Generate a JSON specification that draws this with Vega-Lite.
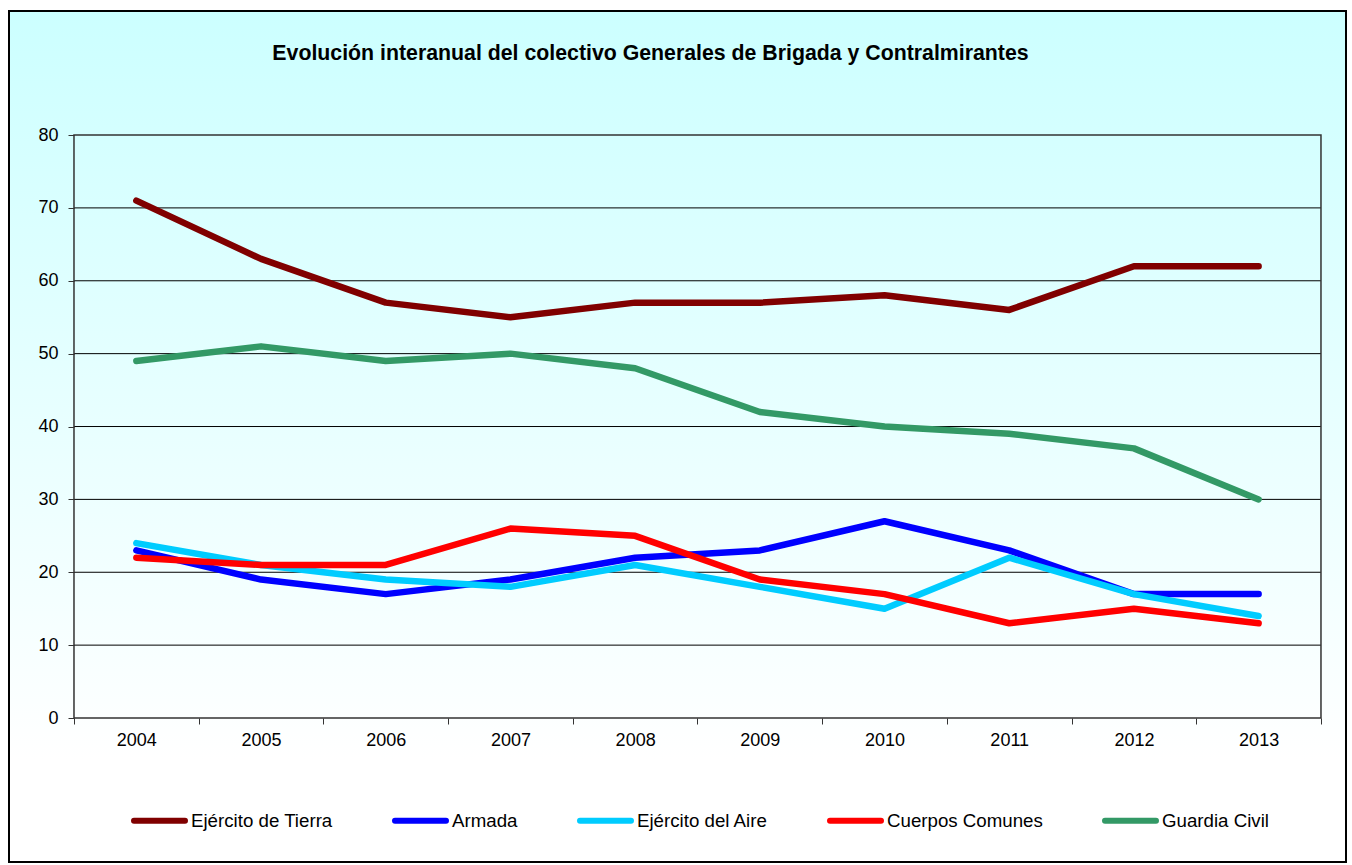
{
  "$schema": "https://vega.github.io/schema/vega-lite/v6.json",
  "width": 1337,
  "height": 851,
  "autosize": {"type": "none"},
  "padding": {"left": 9, "top": 11, "right": 6, "bottom": 3},
  "background": "white",
  "config": {
    "font": "Liberation Sans",
    "view": {
      "fill": {"gradient": "linear", "x1": 0, "y1": 0, "x2": 0, "y2": 1,
        "stops": [{"offset": 0, "color": "#CCFFFF"}, {"offset": 0.88, "color": "#FFFFFF"}, {"offset": 1, "color": "#FFFFFF"}]},
      "stroke": "black",
      "strokeWidth": 2
    }
  },
  "title": {
    "text": "Evolución interanual del colectivo Generales de Brigada y Contralmirantes",
    "fontSize": 21.3, "fontWeight": "bold", "font": "Liberation Sans", "color": "black",
    "anchor": "middle", "frame": "group", "offset": -70, "baseline": "alphabetic", "dx": -27
  },
  "datasets": {
    "grid": [{"g": 10}, {"g": 20}, {"g": 30}, {"g": 40}, {"g": 50}, {"g": 60}, {"g": 70}],
    "series": [
      {"year": "2004", "serie": "Ejército de Tierra", "value": 71},
      {"year": "2005", "serie": "Ejército de Tierra", "value": 63},
      {"year": "2006", "serie": "Ejército de Tierra", "value": 57},
      {"year": "2007", "serie": "Ejército de Tierra", "value": 55},
      {"year": "2008", "serie": "Ejército de Tierra", "value": 57},
      {"year": "2009", "serie": "Ejército de Tierra", "value": 57},
      {"year": "2010", "serie": "Ejército de Tierra", "value": 58},
      {"year": "2011", "serie": "Ejército de Tierra", "value": 56},
      {"year": "2012", "serie": "Ejército de Tierra", "value": 62},
      {"year": "2013", "serie": "Ejército de Tierra", "value": 62},
      {"year": "2004", "serie": "Armada", "value": 23},
      {"year": "2005", "serie": "Armada", "value": 19},
      {"year": "2006", "serie": "Armada", "value": 17},
      {"year": "2007", "serie": "Armada", "value": 19},
      {"year": "2008", "serie": "Armada", "value": 22},
      {"year": "2009", "serie": "Armada", "value": 23},
      {"year": "2010", "serie": "Armada", "value": 27},
      {"year": "2011", "serie": "Armada", "value": 23},
      {"year": "2012", "serie": "Armada", "value": 17},
      {"year": "2013", "serie": "Armada", "value": 17},
      {"year": "2004", "serie": "Ejército del Aire", "value": 24},
      {"year": "2005", "serie": "Ejército del Aire", "value": 21},
      {"year": "2006", "serie": "Ejército del Aire", "value": 19},
      {"year": "2007", "serie": "Ejército del Aire", "value": 18},
      {"year": "2008", "serie": "Ejército del Aire", "value": 21},
      {"year": "2009", "serie": "Ejército del Aire", "value": 18},
      {"year": "2010", "serie": "Ejército del Aire", "value": 15},
      {"year": "2011", "serie": "Ejército del Aire", "value": 22},
      {"year": "2012", "serie": "Ejército del Aire", "value": 17},
      {"year": "2013", "serie": "Ejército del Aire", "value": 14},
      {"year": "2004", "serie": "Cuerpos Comunes", "value": 22},
      {"year": "2005", "serie": "Cuerpos Comunes", "value": 21},
      {"year": "2006", "serie": "Cuerpos Comunes", "value": 21},
      {"year": "2007", "serie": "Cuerpos Comunes", "value": 26},
      {"year": "2008", "serie": "Cuerpos Comunes", "value": 25},
      {"year": "2009", "serie": "Cuerpos Comunes", "value": 19},
      {"year": "2010", "serie": "Cuerpos Comunes", "value": 17},
      {"year": "2011", "serie": "Cuerpos Comunes", "value": 13},
      {"year": "2012", "serie": "Cuerpos Comunes", "value": 15},
      {"year": "2013", "serie": "Cuerpos Comunes", "value": 13},
      {"year": "2004", "serie": "Guardia Civil", "value": 49},
      {"year": "2005", "serie": "Guardia Civil", "value": 51},
      {"year": "2006", "serie": "Guardia Civil", "value": 49},
      {"year": "2007", "serie": "Guardia Civil", "value": 50},
      {"year": "2008", "serie": "Guardia Civil", "value": 48},
      {"year": "2009", "serie": "Guardia Civil", "value": 42},
      {"year": "2010", "serie": "Guardia Civil", "value": 40},
      {"year": "2011", "serie": "Guardia Civil", "value": 39},
      {"year": "2012", "serie": "Guardia Civil", "value": 37},
      {"year": "2013", "serie": "Guardia Civil", "value": 30}
    ]
  },
  "layer": [
    {
      "data": {"name": "grid"},
      "mark": {"type": "rule", "color": "black", "strokeWidth": 1},
      "encoding": {
        "x": {"datum": "2004", "type": "ordinal", "bandPosition": 0},
        "x2": {"datum": "2013", "bandPosition": 1},
        "y": {"field": "g", "type": "quantitative"}
      }
    },
    {
      "data": {"values": [{}]},
      "mark": {"type": "rect", "fill": null, "stroke": "#333333", "strokeWidth": 1.5},
      "encoding": {
        "x": {"datum": "2004", "type": "ordinal", "bandPosition": 0},
        "x2": {"datum": "2013", "bandPosition": 1},
        "y": {"datum": 0, "type": "quantitative"},
        "y2": {"datum": 80}
      }
    },
    {
      "data": {"name": "series"},
      "mark": {"type": "line", "strokeWidth": 6.5, "strokeCap": "round", "strokeJoin": "round"},
      "encoding": {
        "x": {
          "field": "year", "type": "ordinal",
          "scale": {"type": "band", "paddingInner": 0, "paddingOuter": 0.3609, "align": 0.722},
          "axis": {
            "orient": "bottom", "offset": -144, "title": null, "domain": false, "grid": false,
            "tickBand": "extent", "ticks": true, "tickSize": 6, "tickColor": "#333333", "tickWidth": 1,
            "labelFontSize": 18, "labelFont": "Liberation Sans", "labelColor": "black", "labelPadding": 16,
            "labelAngle": 0, "labelAlign": "center", "labelBound": false, "labelOverlap": false
          }
        },
        "y": {
          "field": "value", "type": "quantitative",
          "scale": {"domain": [-19.76, 97.02], "nice": false, "zero": false},
          "axis": {
            "orient": "left", "offset": -65, "title": null, "domain": false, "grid": false,
            "values": [0, 10, 20, 30, 40, 50, 60, 70, 80],
            "tickSize": 6, "tickColor": "#333333", "tickWidth": 1,
            "labelFontSize": 18, "labelFont": "Liberation Sans", "labelColor": "black", "labelPadding": 10
          }
        },
        "color": {
          "field": "serie", "type": "nominal",
          "scale": {
            "domain": ["Ejército de Tierra", "Armada", "Ejército del Aire", "Cuerpos Comunes", "Guardia Civil"],
            "range": ["#800000", "#0000FF", "#00CCFF", "#FF0000", "#339966"]
          },
          "legend": {
            "orient": "none", "legendX": 122, "legendY": 781, "direction": "horizontal", "columns": 5,
            "columnPadding": 50, "symbolType": "stroke", "symbolSize": 2600, "symbolStrokeWidth": 6,
            "labelFontSize": 18.7, "labelFont": "Liberation Sans", "labelColor": "black", "labelOffset": 3,
            "labelLimit": 400, "title": null, "padding": 0,
            "encode": {"symbols": {"update": {"strokeCap": {"value": "round"}}}}
          }
        }
      }
    }
  ]
}
